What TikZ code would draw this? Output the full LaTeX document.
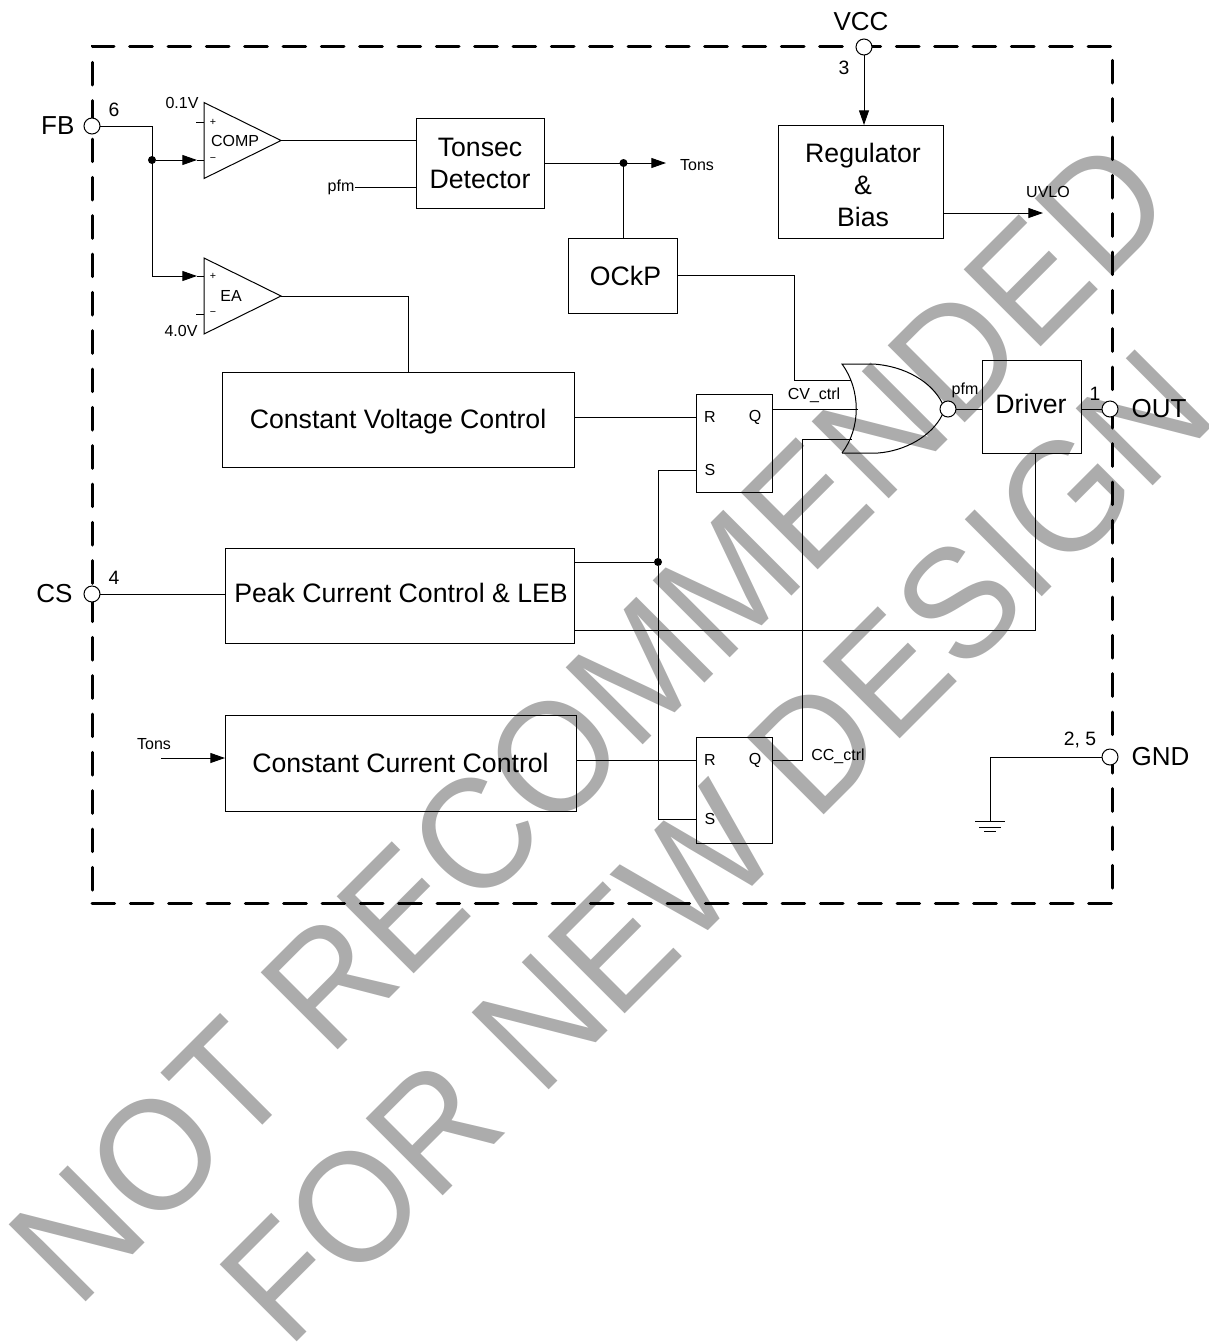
\documentclass[tikz,border=0pt]{standalone}
\usepackage{fontspec}
\setmainfont{Liberation Sans}
\newfontfamily\wmfont[FakeStretch=0.943]{Liberation Sans}
\usetikzlibrary{arrows.meta, positioning, shapes.geometric}
\definecolor{wmgray}{HTML}{ACACAC}
\tikzset{
  blk/.style={
    draw, line width=0.75pt, inner sep=0pt, outer sep=0pt,
    align=center, font=\fontsize{20}{24}\selectfont
  },
  blktxt/.style={inner sep=0pt, align=center, font=\fontsize{20}{24}\selectfont},
  latch/.style={blk, minimum width=57pt},
  amp/.style={
    draw, line width=0.75pt, isosceles triangle, isosceles triangle stretches,
    shape border rotate=0, inner sep=0pt, outer sep=0pt,
    minimum width=57pt, minimum height=57.75pt, anchor=apex
  },
  pin/.style={
    draw, circle, line width=0.75pt, fill=white,
    minimum size=12pt, inner sep=0pt, outer sep=0pt
  },
  dot/.style={fill, circle, minimum size=6pt, inner sep=0pt, outer sep=0pt},
  wire/.style={line width=0.75pt},
  sig/.style={-{Triangle[length=11pt,width=7.5pt]}, line width=0.75pt},
  chipbox/.style={
    draw, line width=2.25pt, dash pattern=on 17pt off 11.75pt, line cap=round,
    inner sep=0pt, outer sep=0pt
  },
  lbl/.style={inner sep=0pt, font=\fontsize{12}{14}\selectfont},
  sgn/.style={inner sep=0pt, font=\fontsize{8}{9}\selectfont},
  num/.style={inner sep=0pt, font=\fontsize{14.5}{16}\selectfont},
  pinlbl/.style={inner sep=0pt, font=\fontsize{19.5}{22}\selectfont},
  wmark/.style={
    anchor=base west, inner sep=0pt, text=wmgray, rotate=45,
    font=\wmfont\fontsize{118.7}{119}\selectfont
  }
}

\begin{document}
\begin{tikzpicture}[x=0.75pt, y=-0.75pt]

  \useasboundingbox (0,0) rectangle (1209,1343);

  \node[wmark] (wmtop) at (77,1311) {NOT RECOMMENDED};
  \node[wmark] (wmbot) at (288,1351) {FOR NEW DESIGN};

  \node[chipbox, minimum width=765pt, minimum height=642.75pt] (chip) at (602,474.5) {};

  \node[blk, minimum width=96pt, minimum height=67.5pt] (tonsec) at (480,163) {Tonsec\\Detector};
  \node[blk, minimum width=123.75pt, minimum height=84.75pt] (reg) at (860.5,181.5) {};
  \node[blktxt] (regtxt) at (863,185) {Regulator\\\&\\Bias};
  \node[blk, minimum width=81.75pt, minimum height=56.25pt] (ockp) at (622.5,275.5) {};
  \node[blktxt] (ockptxt) at (625.5,276) {OCkP};
  \node[blk, minimum width=264pt, minimum height=71.25pt] (cvc) at (398,419.5) {};
  \node[blktxt] (cvctxt) at (398,422) {Constant Voltage Control};
  \node[blk, minimum width=261.75pt, minimum height=71.25pt] (peak) at (399.5,595.5) {};
  \node[blktxt] (peaktxt) at (401,593) {Peak Current Control \& LEB};
  \node[blk, minimum width=263.25pt, minimum height=72pt] (ccc) at (400.5,763) {Constant Current Control};
  \node[blk, minimum width=74.25pt, minimum height=69.75pt] (drv) at (1031.5,406.5) {};
  \node[blktxt] (drvtxt) at (1031,404) {Driver};
  \node[latch, minimum height=73.5pt] (cvl) at (734,443) {};
  \node[latch, minimum height=79.5pt] (ccl) at (734,790) {};

  \node[amp] (comp) at (281,140.5) {};
  \node[amp] (ea) at (281,296) {};
  \node[lbl] (complbl) at (235,141) {COMP};
  \node[lbl] (ealbl) at (231,296) {EA};
  \node[lbl] (vref) at (182,103) {0.1V};
  \node[lbl] (vea) at (181,331) {4.0V};
  \node[sgn] (cplus) at (213,122) {+};
  \node[sgn] (cminus) at (213,160) {\textminus};
  \node[sgn] (eplus) at (213,276) {+};
  \node[sgn] (eminus) at (213,314) {\textminus};

  \node[lbl] (cvr) at (710,417) {R};
  \node[lbl] (cvq) at (755,417) {Q};
  \node[lbl] (cvs) at (710,470) {S};
  \node[lbl] (ccr) at (710,760) {R};
  \node[lbl] (ccq) at (755,760) {Q};
  \node[lbl] (ccs) at (710,819) {S};

  \node[pin] (fb) at (92,126) {};
  \node[pin] (cs) at (92,594) {};
  \node[pin] (vcc) at (864,47) {};
  \node[pin] (out) at (1110,409) {};
  \node[pin] (gnd) at (1110,757) {};
  \node[pin] (bub) at (948,409) {};

  \node[pinlbl, left=7pt of fb] (fblbl) {FB};
  \node[pinlbl, left=8.5pt of cs] (cslbl) {CS};
  \node[pinlbl] (vcclbl) at (861,22) {VCC};
  \node[pinlbl, right=10pt of out] (outlbl) {OUT};
  \node[pinlbl, right=10pt of gnd] (gndlbl) {GND};
  \node[num] (n6) at (114,110) {6};
  \node[num] (n4) at (114,578) {4};
  \node[num] (n3) at (844,68) {3};
  \node[num] (n1) at (1095,394) {1};
  \node[num] (n25) at (1080,740) {2, 5};

  \node[lbl] (pfmin) at (341,187) {pfm};
  \node[lbl] (tonsout) at (697,165) {Tons};
  \node[lbl] (tonsin) at (154,744) {Tons};
  \node[lbl] (uvlo) at (1048,192) {UVLO};
  \node[lbl] (cvctrl) at (814,395) {CV\_ctrl};
  \node[lbl] (ccctrl) at (838,756) {CC\_ctrl};
  \node[lbl] (pfmgate) at (965,390) {pfm};

  \coordinate (gatetl) at (842,364);
  \coordinate (gatetm) at (873,364);
  \coordinate (gatebl) at (842,453);
  \coordinate (gatebm) at (878,453);
  \draw[wire] (gatebl) .. controls (861,428) and (861,390) .. (gatetl) -- (gatetm)
    .. controls (905,366) and (932,382) .. (bub.north west);
  \draw[wire] (gatebl) -- (gatebm) .. controls (905,451) and (932,436) .. (bub.south west);

  \coordinate (fbj) at (152,126);
  \coordinate (fbd) at (152,160);
  \coordinate (fbe) at (152,276);
  \coordinate (ctip) at (197,160);
  \coordinate (etip) at (197,276);
  \draw[wire] (fb) -- (fbj) -- (fbe);
  \node[dot] (fbdot) at (fbd) {};
  \draw[sig] (fbdot) -- (ctip);
  \draw[sig] (fbe) -- (etip);
  \draw[wire] (ctip) -- (comp.left corner |- ctip);
  \draw[wire] (etip) -- (ea.left corner |- etip);
  \coordinate (cpstub) at (196,122);
  \coordinate (emstub) at (196,314);
  \draw[wire] (cpstub) -- (comp.left corner |- cpstub);
  \draw[wire] (emstub) -- (ea.left corner |- emstub);

  \draw[wire] (comp.apex) -- (comp.apex -| tonsec.west);
  \draw[wire] (pfmin) -- (pfmin -| tonsec.west);
  \draw[wire] (ea.apex) -| (408,372);

  \coordinate (tonsend) at (666,163);
  \node[dot] (odot) at (623.5,163) {};
  \draw[sig] (tonsec) -- (tonsend);
  \draw[wire] (ockp.north -| odot) -- (odot);

  \draw[sig] (vcc) -- (reg.north -| vcc);
  \draw[sig] (reg.east |- 943,213) -- (1043,213);

  \draw[wire] (ockp) -| (794,380) -- (851,380);
  \draw[wire] (cvc.east |- cvr) -- (cvl.west |- cvr);
  \draw[wire] (cvl.east |- 772,409) -- (858,409);
  \draw[wire] (bub) -- (bub -| drv.west);
  \draw[wire] (drv.east |- out) -- (out);

  \coordinate (rail) at (658,562);
  \node[dot] (raildot) at (rail) {};
  \draw[wire] (peak.east |- rail) -- (raildot);
  \draw[wire] (cvl.west |- cvs) -| (raildot);
  \draw[wire] (raildot) |- (ccl.west |- ccs);
  \draw[wire] (ccc.east |- ccr) -- (ccl.west |- ccr);
  \draw[wire] (ccl.east |- ccq) -| (802,439) -- (852,439);
  \draw[wire] (peak.east |- 574,630) -| (1035,453);

  \draw[wire] (cs) -- (peak.west |- cs);
  \coordinate (tonsstart) at (161,758);
  \draw[sig] (tonsstart) -- (tonsstart -| ccc.west);

  \coordinate (gndtop) at (990,757);
  \coordinate (gndrod) at (990,821);
  \draw[wire] (gnd) -- (gndtop) -- (gndrod);
  \draw[wire] (975,821) -- (1005,821);
  \draw[wire] (979,827) -- (1001,827);
  \draw[wire] (984,831) -- (996,831);

\end{tikzpicture}
\end{document}
